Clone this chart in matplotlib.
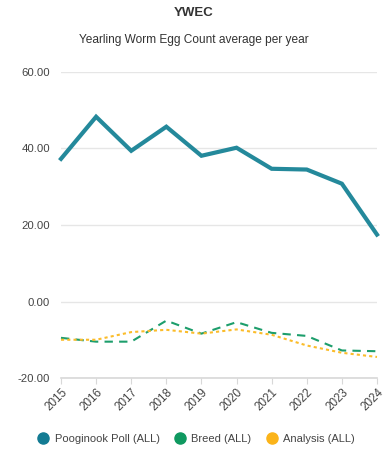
import matplotlib
matplotlib.use("Agg")
import matplotlib.pyplot as plt
from matplotlib.lines import Line2D

plt.rcParams['font.family'] = ['Liberation Sans', 'DejaVu Sans']

years = [2015, 2016, 2017, 2018, 2019, 2020, 2021, 2022, 2023, 2024]
pooginook = [37.3, 48.3, 39.4, 45.7, 38.1, 40.2, 34.7, 34.5, 30.8, 17.5]
breed = [-9.5, -10.5, -10.5, -5.0, -8.4, -5.4, -8.2, -9.0, -12.8, -13.0]
analysis = [-10.0, -10.0, -8.0, -7.4, -8.4, -7.3, -8.7, -11.5, -13.4, -14.5]
yticks = [-20, 0, 20, 40, 60]

c_main = '#24899b'
c_breed = '#1d9e6c'
c_anal = '#fbbc2a'

fig = plt.figure(figsize=(3.87, 4.5), dpi=100)
ax = fig.add_axes([0.1576, 0.16, 0.8165, 0.68])

ax.plot(years, pooginook, color=c_main, lw=3, solid_joinstyle='miter', zorder=3, clip_on=False)
ax.plot(years, breed, color=c_breed, lw=1.5, ls=(0, (4, 3)), zorder=3, clip_on=False)
ax.plot(years, analysis, color=c_anal, lw=1.5, ls=(0, (1.5, 1.5)), zorder=3, clip_on=False)

ax.set_xlim(years[0], years[-1])
ax.set_ylim(-20, 60)
ax.set_yticks(yticks)
ax.set_yticklabels([f"{v:.2f}" for v in yticks], fontsize=8.2, color='#444444')
ax.set_xticks(years)
ax.set_xticklabels([str(y) for y in years], rotation=45, ha='right', va='top',
                   rotation_mode='anchor', fontsize=8.4, color='#444444')
ax.grid(axis='y', color='#e6e6e6', lw=1)
ax.set_axisbelow(True)
for s in ['top', 'right', 'left']:
    ax.spines[s].set_visible(False)
ax.spines['bottom'].set_color('#d8d8d8')
ax.spines['bottom'].set_linewidth(1.2)
ax.tick_params(axis='y', length=0, pad=8)
ax.tick_params(axis='x', length=4, color='#d8d8d8', pad=2)

fig.text(0.5, 0.972, 'YWEC', ha='center', va='center', fontsize=9.5,
         fontweight='bold', color='#333333')
fig.text(0.5, 0.91, 'Yearling Worm Egg Count average per year', ha='center',
         va='center', fontsize=8.6, color='#333333')

handles = [Line2D([], [], ls='none', marker='o', ms=8, color=c)
           for c in ['#137b93', '#0f9960', '#fbb41a']]
fig.legend(handles, ['Pooginook Poll (ALL)', 'Breed (ALL)', 'Analysis (ALL)'],
           loc='center', bbox_to_anchor=(0.5, 0.025), ncol=3, frameon=False,
           fontsize=8, handletextpad=0.05, columnspacing=0.8, labelcolor='#444444')

fig.savefig('out.png', dpi=100)
